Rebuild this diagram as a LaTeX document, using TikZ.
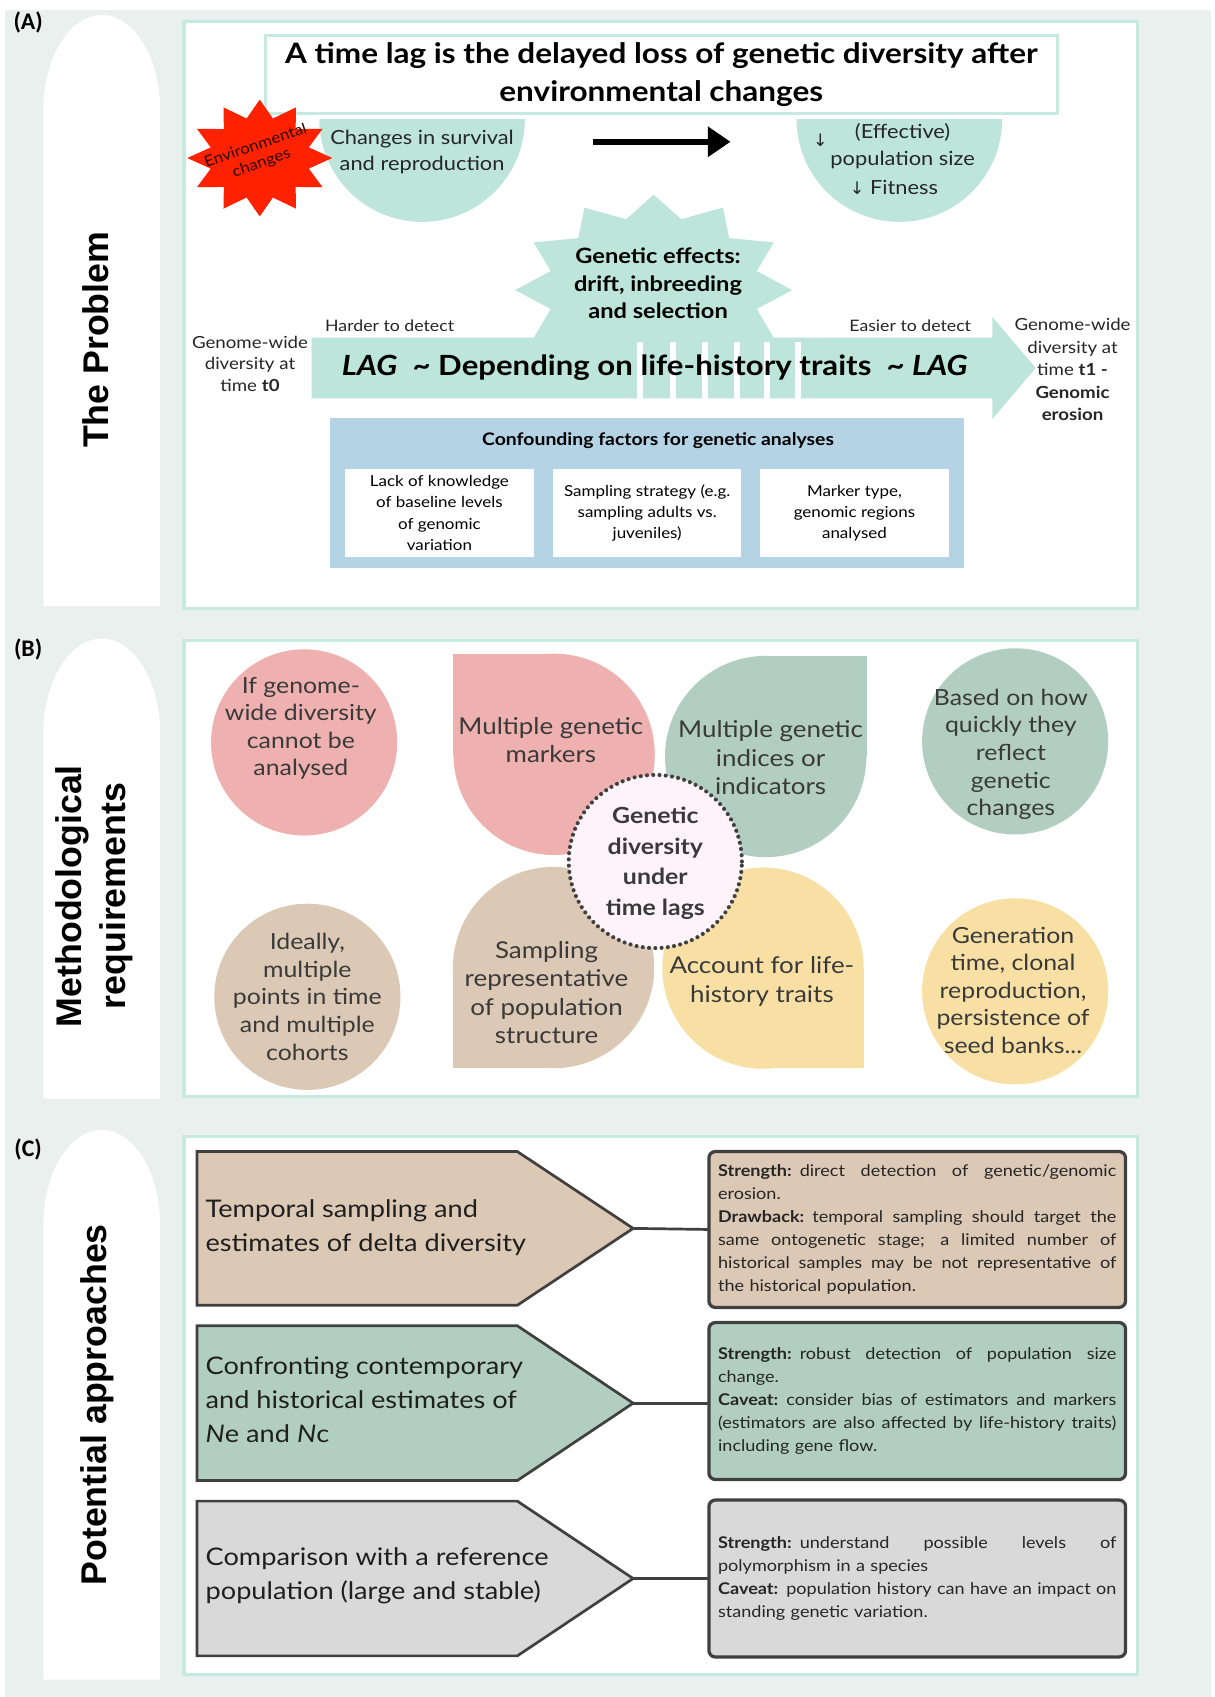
\documentclass[tikz,border=0pt]{standalone}
\usepackage{fontspec}
\setmainfont{Lato}[FakeStretch=1.12]
\newfontfamily\headfont{Liberation Sans}
\newfontfamily\labfont{Carlito}
\newfontfamily\symfont{DejaVu Sans}
\usetikzlibrary{arrows.meta}
\definecolor{bggrey}{HTML}{E9F0ED}
\definecolor{mintline}{HTML}{C6EAE0}
\definecolor{mint}{HTML}{BDE5DA}
\definecolor{starred}{HTML}{FF2200}
\definecolor{startext}{HTML}{2A0800}
\definecolor{pinkc}{HTML}{EFB0B0}
\definecolor{beigec}{HTML}{DBC8B5}
\definecolor{sagec}{HTML}{B2CEC2}
\definecolor{yellowc}{HTML}{F8E0A5}
\definecolor{greyc}{HTML}{D9D9D9}
\definecolor{bluec}{HTML}{B4D3E5}
\definecolor{centerc}{HTML}{FDF3F8}
\definecolor{darkline}{HTML}{404040}
\definecolor{textgrey}{HTML}{3A3A3A}
\newcommand{\jline}[1]{\leavevmode\hbox to 368pt{\spaceskip=\fontdimen2\font plus 1fil\relax #1}}
\tikzset{
 panel/.style={fill=white, draw=mintline, line width=3pt},
 lab/.style={font=\labfont\bfseries\fontsize{22}{26}\selectfont},
 head/.style={rotate=90, font=\headfont\bfseries\fontsize{33}{41}\selectfont, align=center},
 atext/.style={align=center, text=black},
 btext/.style={align=center, text=textgrey, font=\fontsize{20.5}{25.5}\selectfont},
 petext/.style={align=center, text=textgrey, font=\fontsize{21.4}{26.3}\selectfont},
 ptext/.style={align=left, anchor=west, text=black!88, font=\fontsize{22.4}{31.5}\selectfont},
 pentagon/.style={fill=#1, draw=darkline, line width=2.5pt, line join=miter},
 cbox/.style={fill=#1, draw=darkline, line width=3pt, rounded corners=6pt, minimum width=385pt, minimum height=144pt, text width=368pt, align=left, font=\fontsize{14.9}{21.2}\selectfont, text=black!85},
 conn/.style={draw=darkline, line width=2.5pt},
 wbox/.style={fill=white, minimum width=174pt, minimum height=82pt, align=center, font=\fontsize{14}{19.6}\selectfont},
}
\begin{document}
\begin{tikzpicture}[x=1pt,y=-1pt, every node/.style={inner sep=0pt, outer sep=0pt}]
\useasboundingbox (0,0) rectangle (1122,1568);
\fill[bggrey] (5,9) rectangle (1119,1568);
% tabs
\foreach \t/\b in {14/560, 590/1015, 1044/1552} {
  \fill[white] (40,\b) -- (40,\t+88) .. controls (40,\t+39.4) and (64.2,\t) .. (94,\t)
     .. controls (123.8,\t) and (148,\t+39.4) .. (148,\t+88) -- (148,\b) -- cycle;
}
% panels
\foreach \t/\b in {20/562, 592/1013, 1050/1547} { \draw[panel] (170,\t) rectangle (1051,\b); }
\node[lab] (labA) at (26,21) {(A)};
\node[lab] (labB) at (26,600) {(B)};
\node[lab] (labC) at (26,1062) {(C)};
\node[head] (headA) at (88,314) {The Problem};
\node[head] (headB) at (87,828) {Methodological\\requirements};
\node[head] (headC) at (90,1298) {Potential approaches};

% ---------- panel A ----------
\node[draw=mintline, line width=2.5pt, fill=white, minimum width=732pt, minimum height=72pt,
      align=center, font=\bfseries\fontsize{26}{35}\selectfont] (title) at (611,69)
      {A time lag is the delayed loss of genetic diversity after\\environmental changes};
% half discs
\fill[mint] (295,110) .. controls (295,162.5) and (337.5,205) .. (390,205)
   .. controls (442.5,205) and (485,162.5) .. (485,110) -- cycle;
\fill[mint] (736,110) .. controls (736,162.5) and (778.5,205) .. (831,205)
   .. controls (883.5,205) and (926,162.5) .. (926,110) -- cycle;
\node[atext, font=\fontsize{18}{24}\selectfont, text=black!85] (surv) at (390,140) {Changes in survival\\and reproduction};
\node[atext, font=\fontsize{18}{24}\selectfont, text=black!85] (eff) at (834,122) {(Effective)};
\node[atext, font=\fontsize{18}{24}\selectfont, text=black!85] (pops) at (834,148) {population size};
\node[atext, font=\fontsize{18}{24}\selectfont, text=black!85] (fit) at (826,173) {{\symfont\fontsize{16}{20}\selectfont ↓} Fitness};
\node[atext, font=\symfont\fontsize{16}{20}\selectfont, text=black!85] (darr) at (758,130) {↓};
% red star
\begin{scope}[shift={(240pt,-146pt)}, x=67pt, y=54pt]
\fill[starred] (90:1) \foreach \a in {105,135,...,435} {-- (\a:0.7) -- ({\a+15}:1)} -- cycle;
\end{scope}
\node[rotate=19, align=center, text=startext, font=\fontsize{14}{16.5}\selectfont] (env) at (239,143) {Environmental\\changes};
% black arrow
\coordinate (arrS) at (548,131);
\coordinate (arrE) at (675,131);
\draw[line width=6pt, -{Triangle[length=21pt,width=27pt]}] (arrS) -- (arrE);
% LAG band and genetic star
\fill[mint] (288,312) -- (917,312) -- (917,293) -- (957,340) -- (917,387) -- (917,368) -- (288,368) -- cycle;
\begin{scope}[shift={(604pt,-268pt)}, x=128pt, y=88pt]
\fill[mint] (90:1) \foreach \a in {105,135,...,435} {-- (\a:0.77) -- ({\a+15}:1)} -- cycle;
\end{scope}
\foreach \g in {589,619,649,678,706,735} { \fill[white] (\g,316) rectangle (\g+5.5,369); }
\node[atext, font=\bfseries\fontsize{19.5}{25.5}\selectfont] (gen) at (608,262) {Genetic effects:\\drift, inbreeding\\and selection};
\node[atext, font=\bfseries\fontsize{25.7}{30}\selectfont] (lag) at (605,340) {\textit{LAG}\ \ \textasciitilde\ Depending on life-history traits\ \ \textasciitilde\ \textit{LAG}};
\node[atext, font=\fontsize{14.6}{18}\selectfont, text=black!85] (hard) at (360,301) {Harder to detect};
\node[atext, font=\fontsize{14.6}{18}\selectfont, text=black!85] (easy) at (841,301) {Easier to detect};
\node[atext, font=\fontsize{15.4}{20}\selectfont, text=black!85] (t0) at (231,336) {Genome-wide\\diversity at\\time \textbf{t0}};
\node[atext, font=\fontsize{15.4}{20.7}\selectfont, text=black!85] (t1) at (991,341.5) {Genome-wide\\diversity at\\time \textbf{t1 -}\\\textbf{Genomic}\\\textbf{erosion}};
% confounding
\node[fill=bluec, minimum width=586pt, minimum height=139pt] (conf) at (598,455.5) {};
\node[atext, font=\bfseries\fontsize{16}{18}\selectfont] (conft) at (608,407) {Confounding factors for genetic analyses};
\node[wbox] (cf1) at (406,474) {Lack of knowledge\\of baseline levels\\of genomic\\variation};
\node[wbox] (cf2) at (598,474) {Sampling strategy (e.g.\\sampling adults vs.\\juveniles)};
\node[wbox] (cf3) at (789.5,474) {Marker type,\\genomic regions\\analysed};

% ---------- panel B ----------
\fill[pinkc] (281,686) circle[radius=86pt];
\fill[beigec] (284,921) circle[radius=86pt];
\fill[sagec] (938,685) circle[radius=86pt];
\fill[yellowc] (938,916) circle[radius=86pt];
\node[btext] (b1) at (278,673) {If genome-\\wide diversity\\cannot be\\analysed};
\node[btext] (b2) at (284,921) {Ideally,\\multiple\\points in time\\and multiple\\cohorts};
\node[btext] (b3) at (934,697) {Based on how\\quickly they\\reflect\\genetic\\changes};
\node[btext] (b4) at (936,915) {Generation\\time, clonal\\reproduction,\\persistence of\\seed banks...};
% petals
\fill[pinkc] (512,697) circle[radius=93pt]; \fill[pinkc] (419,604) rectangle (512,697);
\fill[sagec] (707.5,699) circle[radius=93pt]; \fill[sagec] (707.5,606) rectangle (801,699);
\fill[beigec] (511.5,894) circle[radius=93pt]; \fill[beigec] (419,894) rectangle (511.5,987);
\fill[yellowc] (705,894.5) circle[radius=93pt]; \fill[yellowc] (705,894.5) rectangle (798,987);
\node[petext] (p1) at (509,684) {Multiple genetic\\markers};
\node[petext] (p2) at (712,700) {Multiple genetic\\indices or\\indicators};
\node[petext] (p3) at (505,917) {Sampling\\representative\\of population\\structure};
\node[petext] (p4) at (704,907) {Account for life-\\history traits};
\node[circle, fill=centerc, draw=darkline, line width=3.8pt, line cap=round, dash pattern=on 0pt off 5.8pt, minimum size=160pt] (ctr) at (605.5,796) {};
\node[atext, text=textgrey, font=\bfseries\fontsize{20.5}{28.3}\selectfont] (ctrt) at (605.5,797.5) {Genetic\\diversity\\under\\time lags};

% ---------- panel C ----------
\draw[pentagon=beigec] (182,1064) -- (478,1064) -- (585,1135) -- (478,1206) -- (182,1206) -- cycle;
\draw[pentagon=sagec] (182,1225) -- (478,1225) -- (585,1296.5) -- (478,1368) -- (182,1368) -- cycle;
\draw[pentagon=greyc] (182,1387) -- (478,1387) -- (585,1458.5) -- (478,1530) -- (182,1530) -- cycle;
\coordinate (tip1) at (585,1135);
\coordinate (tip2) at (585,1296.5);
\coordinate (tip3) at (585,1458.5);
\node[ptext] (a1) at (190,1134) {Temporal sampling and\\estimates of delta diversity};
\node[ptext] (a2) at (190,1293) {Confronting contemporary\\and historical estimates of\\\textit{N}e and \textit{N}c};
\node[ptext] (a3) at (190,1456) {Comparison with a reference\\population (large and stable)};
\node[cbox=beigec] (box1) at (847.5,1136) {%
\jline{\textbf{Strength:} direct detection of genetic/genomic}\\
erosion.\\
\jline{\textbf{Drawback:} temporal sampling should target the}\\
\jline{same ontogenetic stage; a limited number of}\\
\jline{historical samples may be not representative of}\\
the historical population.};
\node[cbox=sagec, minimum height=145pt] (box2) at (847.5,1294.5) {%
\jline{\textbf{Strength:} robust detection of population size}\\
change.\\
\jline{\textbf{Caveat:} consider bias of estimators and markers}\\
\jline{(estimators are also affected by life-history traits)}\\
including gene flow.};
\node[cbox=greyc, minimum height=145pt] (box3) at (847.5,1458.5) {%
\jline{\textbf{Strength:} understand possible levels of}\\
polymorphism in a species\\
\jline{\textbf{Caveat:} population history can have an impact on}\\
standing genetic variation.};
\draw[conn] (tip1) -- (box1.west);
\draw[conn] (tip2) -- (box2.west |- tip2);
\draw[conn] (tip3) -- (box3.west);
\end{tikzpicture}
\end{document}
